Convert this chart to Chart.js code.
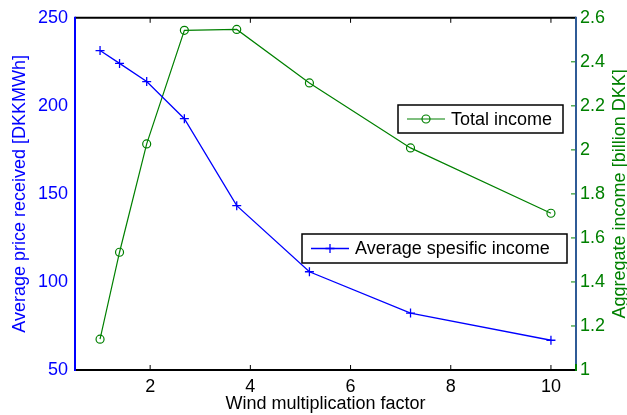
<!DOCTYPE html>
<html>
<head>
<meta charset="utf-8">
<script src="https://cdn.jsdelivr.net/npm/chart.js@4/dist/chart.umd.min.js"></script>
<style>
  html, body { margin: 0; padding: 0; background: #fff; }
  canvas { display: block; }
</style>
</head>
<body>
<canvas id="grafico" width="627" height="415"></canvas>
<script>
// Valores
const windFactor = [1, 1.389, 1.931, 2.683, 3.728, 5.179, 7.197, 10];
const avgPrice = [231.4, 224.1, 213.8, 192.7, 143.3, 105.8, 82.3, 66.9];
const totalIncome = [1.14, 1.535, 2.027, 2.543, 2.547, 2.304, 2.009, 1.712];

const xTicks = [2, 4, 6, 8, 10];
const priceTicks = [50, 100, 150, 200, 250];
const incomeTicks = [1, 1.2, 1.4, 1.6, 1.8, 2, 2.2, 2.4, 2.6];

const FONTE = 'Liberation Sans, Arial, sans-serif';
const AZUL = '#0000ff';
const VERDE = '#008000';

// Moldura estilo MATLAB: eixos + marcas para dentro
const molduraPlugin = {
    id: 'moldura',
    beforeDatasetsDraw(chart) {
        const { ctx, chartArea: a, scales } = chart;
        const linha = (x1, y1, x2, y2) => {
            ctx.beginPath();
            ctx.moveTo(x1, y1);
            ctx.lineTo(x2, y2);
            ctx.stroke();
        };
        ctx.save();
        ctx.lineWidth = 1;
        ctx.strokeStyle = '#000';
        xTicks.forEach(v => {
            const px = scales.x.getPixelForValue(v);
            linha(px, a.top, px, a.top + 5);
            linha(px, a.bottom, px, a.bottom - 5);
        });
        ctx.strokeStyle = VERDE;
        incomeTicks.forEach(v => {
            const py = scales.y2.getPixelForValue(v);
            linha(a.right - 5, py, a.right, py);
        });

        ctx.lineWidth = 2;
        ctx.strokeStyle = '#000';
        linha(a.left, a.top, a.right, a.top);
        linha(a.left, a.bottom, a.right, a.bottom);
        ctx.strokeStyle = AZUL;
        linha(a.left, a.top - 1, a.left, a.bottom + 1);
        ctx.strokeStyle = '#2f5b96';
        linha(a.right, a.top - 1, a.right, a.bottom - 6);
        ctx.strokeStyle = VERDE;
        linha(a.right, a.bottom - 6, a.right, a.bottom + 1);
        ctx.restore();
    },
    afterDraw(chart, args, opts) {
        // título do eixo direito, lido de baixo para cima como no original
        const { ctx, chartArea: a } = chart;
        ctx.save();
        ctx.translate(opts.rightTitleX, (a.top + a.bottom) / 2);
        ctx.rotate(-Math.PI / 2);
        ctx.font = '18px ' + FONTE;
        ctx.fillStyle = VERDE;
        ctx.textAlign = 'center';
        ctx.textBaseline = 'middle';
        ctx.fillText(opts.rightTitle, 0, 0);
        ctx.restore();
    }
};

// Duas caixas de legenda separadas
const legendaPlugin = {
    id: 'legendas',
    afterDatasetsDraw(chart, args, opts) {
        const { ctx } = chart;
        ctx.save();
        ctx.font = '18px ' + FONTE;
        opts.boxes.forEach(b => {
            const ds = chart.data.datasets[b.dataset];
            const cy = b.top + b.height / 2;

            ctx.fillStyle = '#fff';
            ctx.fillRect(b.left, b.top, b.width, b.height);
            ctx.lineWidth = 1.5;
            ctx.strokeStyle = '#000';
            ctx.strokeRect(b.left, b.top, b.width, b.height);

            ctx.strokeStyle = ds.borderColor;
            ctx.lineWidth = ds.borderWidth;
            ctx.beginPath();
            ctx.moveTo(b.left + 9, cy);
            ctx.lineTo(b.left + 47, cy);
            ctx.stroke();
            ctx.fillStyle = ds.pointBackgroundColor;
            Chart.helpers.drawPoint(ctx, {
                pointStyle: ds.pointStyle,
                radius: ds.pointRadius,
                borderWidth: ds.pointBorderWidth,
                rotation: 0
            }, b.left + 28, cy);

            ctx.fillStyle = '#000';
            ctx.textAlign = 'left';
            ctx.textBaseline = 'middle';
            ctx.fillText(ds.label, b.left + 53, cy + 1);
        });
        ctx.restore();
    }
};

const ctx = document.getElementById('grafico').getContext('2d');

new Chart(ctx, {
    type: 'scatter',
    data: {
        datasets: [
            {
                label: 'Average spesific income',
                data: windFactor.map((x, i) => ({ x: x, y: avgPrice[i] })),
                yAxisID: 'y',
                showLine: true,
                borderColor: AZUL,
                borderWidth: 1.3,
                pointStyle: 'cross',
                pointRadius: 4.5,
                pointBorderColor: AZUL,
                pointBackgroundColor: AZUL,
                pointBorderWidth: 1.3
            },
            {
                label: 'Total income',
                data: windFactor.map((x, i) => ({ x: x, y: totalIncome[i] })),
                yAxisID: 'y2',
                showLine: true,
                borderColor: VERDE,
                borderWidth: 1.2,
                pointStyle: 'circle',
                pointRadius: 4,
                pointBorderColor: VERDE,
                pointBackgroundColor: 'rgba(0,0,0,0)',
                pointBorderWidth: 1.2
            }
        ]
    },
    options: {
        responsive: false,
        animation: false,
        devicePixelRatio: 1,
        layout: { padding: { top: 15, left: 0, right: 0, bottom: 0 } },
        plugins: {
            legend: { display: false },
            tooltip: { enabled: false },
            moldura: { rightTitle: 'Aggregate income [billion DKK]', rightTitleX: 620 },
            legendas: {
                boxes: [
                    { dataset: 1, left: 398, top: 105, width: 165, height: 28 },
                    { dataset: 0, left: 302, top: 234, width: 265, height: 29 }
                ]
            }
        },
        scales: {
            x: {
                type: 'linear',
                min: 0.5,
                max: 10.5,
                afterBuildTicks: s => { s.ticks = xTicks.map(v => ({ value: v })); },
                afterFit: s => { s.height = 45; },
                grid: { display: false, drawTicks: false },
                border: { display: false },
                ticks: { color: '#000', font: { family: FONTE, size: 18 }, padding: 6, maxRotation: 0 },
                title: {
                    display: true,
                    text: 'Wind multiplication factor',
                    color: '#000',
                    font: { family: FONTE, size: 18 },
                    padding: { top: 0, bottom: 0 }
                }
            },
            y: {
                position: 'left',
                min: 50,
                max: 250,
                afterBuildTicks: s => { s.ticks = priceTicks.map(v => ({ value: v })); },
                afterFit: s => { s.width = 75; },
                grid: { display: false, drawTicks: false },
                border: { display: false },
                ticks: { color: AZUL, font: { family: FONTE, size: 18 }, padding: 7 },
                title: {
                    display: true,
                    text: 'Average price received [DKKMWh]',
                    color: AZUL,
                    font: { family: FONTE, size: 18 },
                    padding: { top: 9, bottom: 0 }
                }
            },
            y2: {
                position: 'right',
                min: 1,
                max: 2.6,
                afterBuildTicks: s => { s.ticks = incomeTicks.map(v => ({ value: v })); },
                afterFit: s => { s.width = 51; },
                grid: { display: false, drawTicks: false },
                border: { display: false },
                ticks: {
                    color: VERDE,
                    font: { family: FONTE, size: 18 },
                    padding: 4,
                    callback: v => String(Math.round(v * 10) / 10)
                },
                title: { display: false }
            }
        }
    },
    plugins: [molduraPlugin, legendaPlugin]
});
</script>
</body>
</html>
